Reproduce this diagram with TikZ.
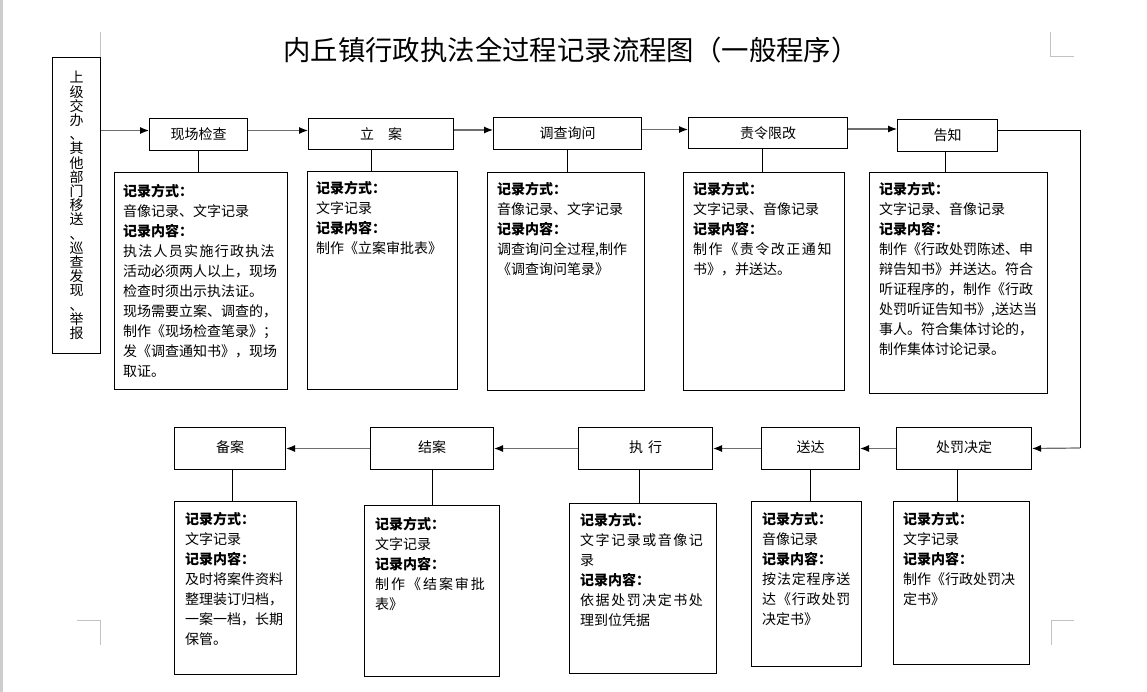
\documentclass[tikz,border=0pt]{standalone}
\usepackage{fontspec}
\setmainfont{Noto Sans CJK SC}
\usetikzlibrary{arrows.meta,calc}
\definecolor{arrgray}{RGB}{110,110,110}
\definecolor{markgray}{RGB}{195,195,195}
\definecolor{edgegray}{RGB}{205,205,205}
\begin{document}
\begin{tikzpicture}[x=1pt,y=-1pt,
  box/.style={draw=black, line width=1pt, rectangle, inner sep=0pt, anchor=north west, font=\fontsize{14}{16}\selectfont},
  dbox/.style={draw=black, line width=1pt, rectangle, inner sep=0pt, anchor=north west},
  txt/.style={anchor=north west, inner sep=0pt, align=left, font=\fontsize{14}{20}\selectfont},
  arr/.style={draw=arrgray, line width=1.2pt, -{Latex[color=black,length=9pt,width=7pt]}},
  link/.style={draw=black, line width=0.9pt},
  cropmark/.style={draw=markgray, line width=0.8pt}]
\useasboundingbox (0,0) rectangle (1147,692);
\fill[white] (0,0) rectangle (1147,692);
\fill[edgegray] (0,0) rectangle (3,692);

% crop marks
\draw[cropmark] (100,32) -- (100,57);
\draw[cropmark] (1050,32) -- (1050,56) -- (1074,56);
\draw[cropmark] (77,620) -- (100,620) -- (100,645);
\draw[cropmark] (1051,645) -- (1051,620) -- (1074,620);

% title
\node[font=\fontsize{27.4}{30}\selectfont] (title) at (571,50) {内丘镇行政执法全过程记录流程图（一般程序）};

% source box
\node[box, minimum width=48, minimum height=296, align=center, font=\fontsize{14}{14.2}\selectfont] (src) at (52,57)
 {上\\级\\交\\办\\、\\其\\他\\部\\门\\移\\送\\、\\巡\\查\\发\\现\\、\\举\\报};

% top row step boxes
\node[box, minimum width=98, minimum height=32] (xc) at (149,118) {现场检查};
\node[box, minimum width=145, minimum height=31] (la) at (308,118) {立\hspace{14pt}案};
\node[box, minimum width=148, minimum height=32] (dc) at (493,117) {调查询问};
\node[box, minimum width=159, minimum height=31] (zl) at (688,117) {责令限改};
\node[box, minimum width=100, minimum height=32] (gz) at (897,119) {告知};

% bottom row step boxes
\node[box, minimum width=135, minimum height=42] (cf) at (896,427) {\raisebox{4pt}{处罚决定}};
\node[box, minimum width=98, minimum height=42] (sd) at (761,427) {\raisebox{4pt}{送达}};
\node[box, minimum width=134, minimum height=42] (zx) at (578,427) {\raisebox{4pt}{执\hspace{5pt}行}};
\node[box, minimum width=123, minimum height=42] (ja) at (370,427) {\raisebox{4pt}{结案}};
\node[box, minimum width=111, minimum height=42] (ba) at (174,427) {\raisebox{4pt}{备案}};

% detail boxes
\node[dbox, minimum width=173, minimum height=217] (d1) at (114,172) {};
\node[dbox, minimum width=150, minimum height=218] (d2) at (307,171) {};
\node[dbox, minimum width=157, minimum height=218] (d3) at (487,172) {};
\node[dbox, minimum width=161, minimum height=218] (d4) at (683,172) {};
\node[dbox, minimum width=178, minimum height=221] (d5) at (869,172) {};
\node[dbox, minimum width=122, minimum height=173] (d6) at (174,501) {};
\node[dbox, minimum width=135, minimum height=171] (d7) at (364,505) {};
\node[dbox, minimum width=147, minimum height=170] (d8) at (569,503) {};
\node[dbox, minimum width=110, minimum height=165] (d9) at (751,501) {};
\node[dbox, minimum width=136, minimum height=163] (d10) at (893,501) {};

% detail texts
\node[txt] (t1) at ($(d1.north west)+(9,12)$) {\textbf{记录方式：}\\
音像记录、文字记录\\
\textbf{记录内容：}\\
{\addfontfeatures{LetterSpace=9}执法人员实施行政执法}\\
活动必须两人以上，现场\\
检查时须出示执法证。\\
现场需要立案、调查的，\\
制作《现场检查笔录》；\\
发《调查通知书》，现场\\
取证。};
\node[txt] (t2) at ($(d2.north west)+(9,10)$) {\textbf{记录方式：}\\
文字记录\\
\textbf{记录内容：}\\
制作《立案审批表》};
\node[txt] (t3) at ($(d3.north west)+(10,10)$) {\textbf{记录方式：}\\
音像记录、文字记录\\
\textbf{记录内容：}\\
调查询问全过程,制作\\
《调查询问笔录》};
\node[txt] (t4) at ($(d4.north west)+(10,10)$) {\textbf{记录方式：}\\
文字记录、音像记录\\
\textbf{记录内容：}\\
{\addfontfeatures{LetterSpace=11}制作《责令改正通知}\\
书》，并送达。};
\node[txt] (t5) at ($(d5.north west)+(10,10)$) {\textbf{记录方式：}\\
文字记录、音像记录\\
\textbf{记录内容：}\\
制作《行政处罚陈述、申\\
辩告知书》并送达。符合\\
听证程序的，制作《行政\\
处罚听证告知书》,送达当\\
事人。符合集体讨论的，\\
制作集体讨论记录。};
\node[txt] (t6) at ($(d6.north west)+(11,11)$) {\textbf{记录方式：}\\
文字记录\\
\textbf{记录内容：}\\
及时将案件资料\\
整理装订归档，\\
一案一档，长期\\
保管。};
\node[txt] (t7) at ($(d7.north west)+(11,12)$) {\textbf{记录方式：}\\
文字记录\\
\textbf{记录内容：}\\
{\addfontfeatures{LetterSpace=14}制作《结案审批}\\
表》};
\node[txt] (t8) at ($(d8.north west)+(11,10)$) {\textbf{记录方式：}\\
{\addfontfeatures{LetterSpace=11}文字记录或音像记}\\
录\\
\textbf{记录内容：}\\
{\addfontfeatures{LetterSpace=11}依据处罚决定书处}\\
理到位凭据};
\node[txt] (t9) at ($(d9.north west)+(11,11)$) {\textbf{记录方式：}\\
音像记录\\
\textbf{记录内容：}\\
{\addfontfeatures{LetterSpace=6}按法定程序送}\\
{\addfontfeatures{LetterSpace=6}达《行政处罚}\\
决定书》};
\node[txt] (t10) at ($(d10.north west)+(10,11)$) {\textbf{记录方式：}\\
文字记录\\
\textbf{记录内容：}\\
制作《行政处罚决\\
定书》};

% top row arrows
\coordinate (a0) at ([yshift=4pt]xc.west);
\draw[arr] (a0 -| src.east) -- (a0);
\coordinate (a1) at ([yshift=4pt]xc.east);
\draw[arr] (a1) -- (a1 -| la.west);
\coordinate (a2) at ([yshift=4pt]la.east);
\draw[arr] (a2) -- (a2 -| dc.west);
\coordinate (a3) at ([yshift=4pt]dc.east);
\draw[arr] (a3) -- (a3 -| zl.west);
\coordinate (a4) at ([yshift=4pt]zl.east);
\draw[arr] (a4) -- (a4 -| gz.west);

% right return connector
\coordinate (r0) at ([yshift=5pt]gz.east);
\coordinate (r2) at (1080,448);
\draw[link] (r0) -| (r2);
\draw[arr] (r2) -- (cf.east);

% bottom row arrows
\draw[arr] (cf.west) -- (sd.east);
\draw[arr] (sd.west) -- (zx.east);
\draw[arr] (zx.west) -- (ja.east);
\draw[arr] (ja.west) -- (ba.east);

% connectors to detail boxes
\coordinate (k1) at (xc.south);
\draw[link] (k1) -- (k1 |- d1.north);
\coordinate (k2) at ([xshift=-9.5pt]la.south);
\draw[link] (k2) -- (k2 |- d2.north);
\coordinate (k3) at (dc.south);
\draw[link] (k3) -- (k3 |- d3.north);
\coordinate (k4) at ([xshift=-5.5pt]zl.south);
\draw[link] (k4) -- (k4 |- d4.north);
\coordinate (k5) at ([xshift=-2pt]gz.south);
\draw[link] (k5) -- (k5 |- d5.north);
\coordinate (k6) at ([xshift=2.5pt]ba.south);
\draw[link] (k6) -- (k6 |- d6.north);
\coordinate (k7) at (ja.south);
\draw[link] (k7) -- (k7 |- d7.north);
\coordinate (k8) at ([xshift=-6pt]zx.south);
\draw[link] (k8) -- (k8 |- d8.north);
\coordinate (k9) at (sd.south);
\draw[link] (k9) -- (k9 |- d9.north);
\coordinate (k10) at ([xshift=-6.5pt]cf.south);
\draw[link] (k10) -- (k10 |- d10.north);
\end{tikzpicture}
\end{document}
